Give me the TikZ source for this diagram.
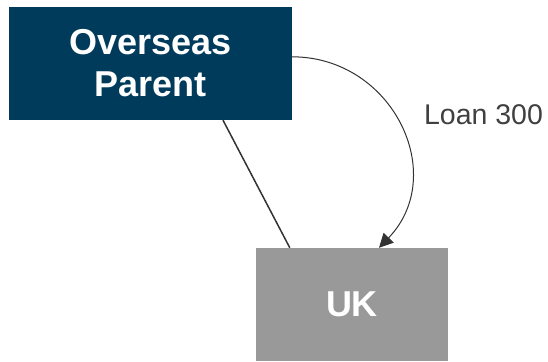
\documentclass[tikz,border=0pt]{standalone}
\usepackage{fontspec}
\setmainfont{Liberation Sans}
\usetikzlibrary{arrows.meta}
\definecolor{parentblue}{HTML}{003B5C}
\definecolor{ukgray}{HTML}{999999}
\definecolor{linegray}{HTML}{333333}
\definecolor{labelgray}{HTML}{404040}
\begin{document}
\begin{tikzpicture}[x=1pt,y=-1pt,
  entity/.style={inner sep=0pt,text=white,align=center,
    font=\fontsize{36}{42}\selectfont\bfseries},
  link/.style={line width=1.5pt,draw=linegray},
  loan/.style={line width=1pt,draw=linegray,
    -{Triangle[length=14pt,width=14pt]}}]
\useasboundingbox (0,0) rectangle (548,361);

\node[entity,fill=parentblue,minimum width=283pt,minimum height=113pt] (parent) at (150.5,63.5) {Overseas\\Parent};
\node[entity,fill=ukgray,minimum width=192pt,minimum height=113pt] (uk) at (352,304.5) {UK};

\draw[link] ([xshift=72.5pt]parent.south) -- ([xshift=34pt]uk.north west);

\draw[loan] ([yshift=-50pt]parent.north east) .. controls (393,57) and (449,175) .. ([xshift=27pt]uk.north);

\node[anchor=base,text=labelgray,font=\fontsize{28.5}{34}\selectfont] (loanlabel) at (483.5,124) {Loan 300};
\end{tikzpicture}
\end{document}
